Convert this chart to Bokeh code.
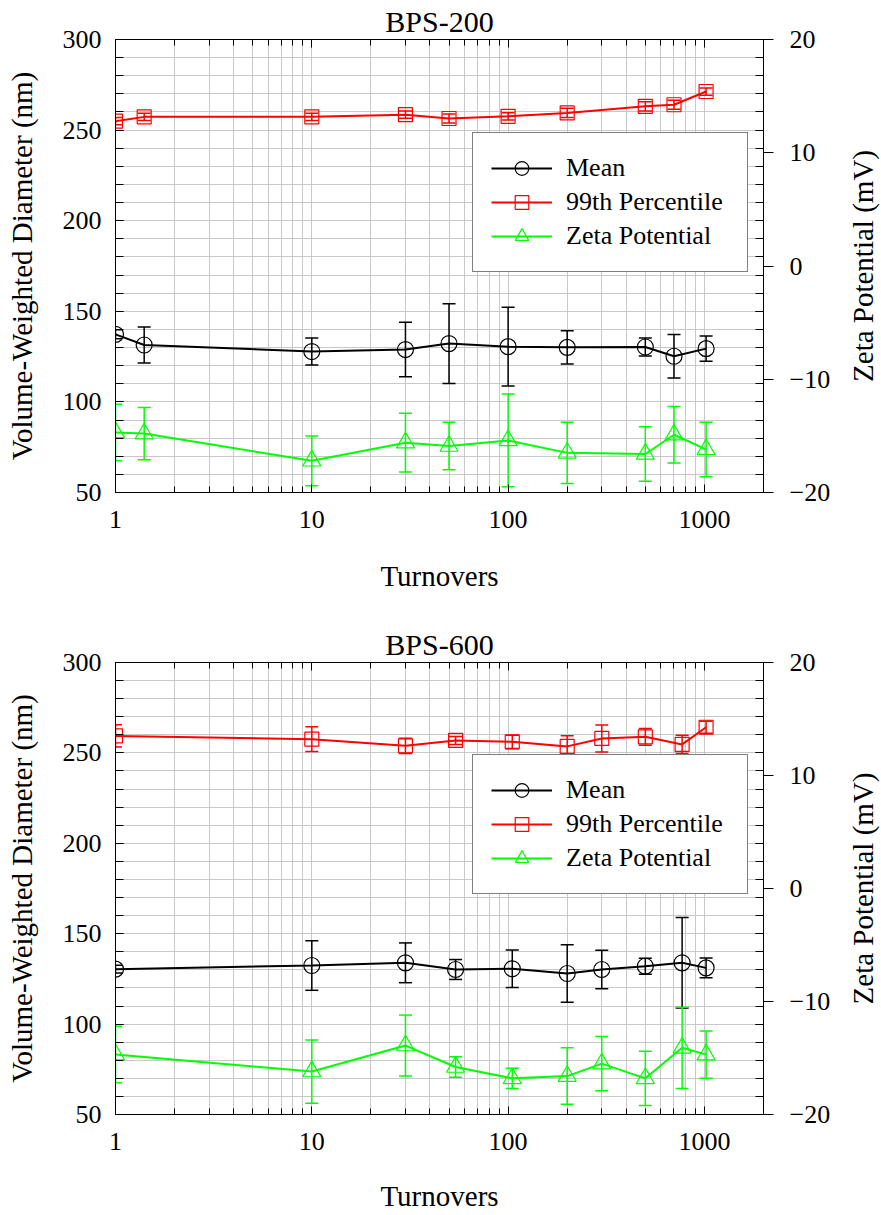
import math
from bokeh.plotting import figure
from bokeh.models import (Range1d, LinearAxis, LogAxis, Whisker, ColumnDataSource,
                          Legend, LegendItem, SingleIntervalTicker, FixedTicker,
                          TeeHead, PrintfTickFormatter)
from bokeh.layouts import column, row
from bokeh.embed import file_html
from bokeh.resources import INLINE

# ---------------- data ----------------
titles = ["BPS-200", "BPS-600"]
x_label = "Turnovers"
y_label = "Volume-Weighted Diameter (nm)"
y2_label = "Zeta Potential (mV)"
series_names = ["Mean", "99th Percentile", "Zeta Potential"]
x_ticks = [1, 10, 100, 1000]

turnovers_200 = [1, 1.4, 10, 30, 50, 100, 200, 500, 700, 1020]
mean_200 = [137.3, 131.4, 127.8, 128.9, 132.2, 130.5, 130.1, 130.3, 125.2, 129.4]
mean_err_200 = [2.5, 10.0, 7.5, 15.0, 22.0, 21.7, 9.2, 5.0, 12.0, 6.9]
p99_200 = [254.9, 257.3, 257.3, 258.5, 256.4, 257.6, 259.5, 263.1, 264.0, 271.3]
p99_err_200 = [2.0, 2.0, 2.0, 2.0, 2.5, 2.0, 2.5, 2.5, 2.5, 2.0]
zeta_200 = [-14.7, -14.8, -17.2, -15.6, -15.9, -15.4, -16.5, -16.6, -14.9, -16.2]
zeta_err_200 = [2.5, 2.3, 2.2, 2.6, 2.1, 4.1, 2.7, 2.4, 2.5, 2.4]

turnovers_600 = [1, 10, 30, 54, 105, 200, 300, 500, 770, 1020]
mean_600 = [130.4, 132.4, 133.9, 130.2, 130.6, 128.0, 130.2, 132.0, 133.9, 131.1]
mean_err_600 = [2.2, 13.7, 11.0, 5.5, 10.4, 15.9, 10.7, 4.4, 25.0, 5.5]
p99_600 = [259.4, 257.6, 253.9, 256.9, 256.1, 253.6, 258.0, 258.9, 254.7, 264.2]
p99_err_600 = [6.2, 6.8, 4.2, 2.2, 3.7, 5.9, 7.5, 4.6, 5.1, 3.3]
zeta_600 = [-14.7, -16.2, -13.9, -15.8, -16.8, -16.6, -15.5, -16.8, -14.1, -14.7]
zeta_err_600 = [2.5, 2.8, 2.7, 0.9, 0.9, 2.5, 2.4, 2.4, 3.6, 2.1]

# ---------------- style ----------------
FONT = "Liberation Serif"
GRID = "#c8c8c8"
BLACK = "#000000"
RED = "#ff0000"
GREEN = "#00ff00"

X_MIN, X_MAX = 1, 2000
Y_MIN, Y_MAX = 50, 300
Z_MIN, Z_MAX = -20, 20
MAIN_W = 841
SIDE_W = 881 - MAIN_W
minor_x = [m * 10 ** e for e in range(0, 4) for m in range(2, 10) if m * 10 ** e <= X_MAX]


def style_axis(ax, label=None, label_standoff=0, tick_standoff=10):
    if label is not None:
        ax.axis_label = label
        ax.axis_label_text_font = FONT
        ax.axis_label_text_font_size = "29px"
        ax.axis_label_text_font_style = "normal"
        ax.axis_label_text_color = BLACK
        ax.axis_label_standoff = label_standoff
    ax.major_label_text_font = FONT
    ax.major_label_text_font_size = "26px"
    ax.major_label_text_color = BLACK
    ax.major_label_standoff = tick_standoff
    ax.axis_line_color = BLACK
    ax.major_tick_line_color = BLACK
    ax.minor_tick_line_color = BLACK


def make_panel(title, x, mean, mean_err, p99, p99_err, zeta, zeta_err,
               height, bottom_border, xlabel_standoff):
    p = figure(width=MAIN_W, height=height, x_axis_type="log",
               x_range=Range1d(X_MIN, X_MAX), y_range=Range1d(Y_MIN, Y_MAX),
               output_backend="svg", toolbar_location=None,
               min_border_left=115, min_border_right=MAIN_W - 763,
               min_border_top=39, min_border_bottom=bottom_border,
               background_fill_color="white", border_fill_color="white")
    p.extra_y_ranges = {"zeta": Range1d(Z_MIN, Z_MAX)}
    p.outline_line_color = BLACK
    p.outline_line_width = 1

    p.title.text = title
    p.title.align = "center"
    p.title.text_font = FONT
    p.title.text_font_size = "30px"
    p.title.text_font_style = "normal"
    p.title.text_color = BLACK
    p.title.standoff = 4
    p.title.offset = 0

    xa = p.xaxis[0]
    xa.ticker = FixedTicker(ticks=x_ticks, minor_ticks=minor_x)
    xa.formatter = PrintfTickFormatter(format="%d")
    style_axis(xa, x_label, xlabel_standoff, 18)
    xa.major_tick_in = 8
    xa.major_tick_out = 0
    xa.minor_tick_in = 6
    xa.minor_tick_out = 0

    ya = p.yaxis[0]
    ya.ticker = SingleIntervalTicker(interval=50, num_minor_ticks=5)
    style_axis(ya, y_label, 22, 14)
    ya.major_tick_in = 8
    ya.major_tick_out = 0
    ya.minor_tick_in = 8
    ya.minor_tick_out = 0

    top = LogAxis(ticker=FixedTicker(ticks=x_ticks, minor_ticks=minor_x),
                  formatter=PrintfTickFormatter(format="%d"),
                  major_label_text_font_size="1px", major_label_text_alpha=0,
                  major_label_standoff=0,
                  major_tick_in=8, major_tick_out=0,
                  minor_tick_in=6, minor_tick_out=0, axis_line_color=BLACK)
    p.add_layout(top, "above")

    mirror = LinearAxis(ticker=SingleIntervalTicker(interval=50, num_minor_ticks=5),
                        major_label_text_font_size="1px", major_label_text_alpha=0,
                        major_label_standoff=0,
                        major_tick_in=8, major_tick_out=0,
                        minor_tick_in=8, minor_tick_out=0, axis_line_color=BLACK)
    p.add_layout(mirror, "right")

    za = LinearAxis(y_range_name="zeta",
                    ticker=SingleIntervalTicker(interval=10, num_minor_ticks=0))
    style_axis(za, None, 0, 16)
    za.major_tick_in = 0
    za.major_tick_out = 10
    za.minor_tick_in = 0
    za.minor_tick_out = 0
    p.add_layout(za, "right")

    for g in (p.xgrid[0], p.ygrid[0]):
        g.grid_line_color = GRID
        g.grid_line_width = 1
        g.minor_grid_line_color = GRID
        g.minor_grid_line_width = 1

    src = ColumnDataSource(dict(
        x=x, mean=mean, p99=p99, zeta=zeta,
        mean_lo=[m - e for m, e in zip(mean, mean_err)],
        mean_hi=[m + e for m, e in zip(mean, mean_err)],
        p99_lo=[m - e for m, e in zip(p99, p99_err)],
        p99_hi=[m + e for m, e in zip(p99, p99_err)],
        zeta_lo=[m - e for m, e in zip(zeta, zeta_err)],
        zeta_hi=[m + e for m, e in zip(zeta, zeta_err)],
    ))

    def whisk(lo, hi, color, yrn="default"):
        w = Whisker(source=src, base="x", lower=lo, upper=hi,
                    line_color=color, line_width=1.5, y_range_name=yrn,
                    upper_head=TeeHead(size=13, line_color=color, line_width=1.5),
                    lower_head=TeeHead(size=13, line_color=color, line_width=1.5))
        p.add_layout(w)

    whisk("mean_lo", "mean_hi", BLACK)
    whisk("p99_lo", "p99_hi", RED)
    whisk("zeta_lo", "zeta_hi", GREEN, "zeta")

    l1 = p.line("x", "mean", source=src, line_color=BLACK, line_width=2)
    s1 = p.scatter("x", "mean", source=src, marker="circle", size=16,
                   fill_color=None, line_color=BLACK, line_width=1.2)
    l2 = p.line("x", "p99", source=src, line_color=RED, line_width=2)
    s2 = p.scatter("x", "p99", source=src, marker="square", size=14,
                   fill_color=None, line_color=RED, line_width=1.2)
    l3 = p.line("x", "zeta", source=src, line_color=GREEN, line_width=2,
                y_range_name="zeta")
    s3 = p.scatter("x", "zeta", source=src, marker="triangle", size=18,
                   fill_color=None, line_color=GREEN, line_width=1.2,
                   y_range_name="zeta")

    legend = Legend(items=[
        LegendItem(label=series_names[0], renderers=[l1, s1]),
        LegendItem(label=series_names[1], renderers=[l2, s2]),
        LegendItem(label=series_names[2], renderers=[l3, s3]),
    ], location=(357, 220))
    legend.label_text_font = FONT
    legend.label_text_font_size = "26px"
    legend.label_text_color = BLACK
    legend.glyph_width = 61
    legend.glyph_height = 34
    legend.label_standoff = 14
    legend.label_width = 163
    legend.padding = 18
    legend.spacing = 0
    legend.margin = 0
    legend.border_line_color = BLACK
    legend.border_line_width = 1
    legend.background_fill_color = "white"
    legend.background_fill_alpha = 1.0
    p.add_layout(legend)

    # narrow companion figure carrying the right-hand axis title,
    # drawn as a left-axis title so it reads bottom-to-top
    s = figure(width=SIDE_W, height=height, y_range=Range1d(Z_MIN, Z_MAX),
               x_range=Range1d(0, 1), output_backend="svg", toolbar_location=None,
               min_border_left=SIDE_W - 1, min_border_right=0,
               min_border_top=39, min_border_bottom=bottom_border,
               background_fill_color=None, border_fill_color="white")
    s.outline_line_color = None
    s.grid.visible = False
    s.xaxis.visible = False
    sa = s.yaxis[0]
    style_axis(sa, y2_label, 2, 0)
    sa.major_label_text_font_size = "1px"
    sa.major_label_text_alpha = 0
    sa.major_tick_in = 0
    sa.major_tick_out = 0
    sa.minor_tick_in = 0
    sa.minor_tick_out = 0
    sa.axis_line_color = None
    return row(p, s, spacing=0)


r1 = make_panel(titles[0], turnovers_200, mean_200, mean_err_200, p99_200, p99_err_200,
                zeta_200, zeta_err_200, height=623, bottom_border=131, xlabel_standoff=29)
r2 = make_panel(titles[1], turnovers_600, mean_600, mean_err_600, p99_600, p99_err_600,
                zeta_600, zeta_err_600, height=591, bottom_border=98, xlabel_standoff=27)

layout = column(r1, r2, spacing=0)
open("out.html", "w").write(file_html(layout, INLINE))
